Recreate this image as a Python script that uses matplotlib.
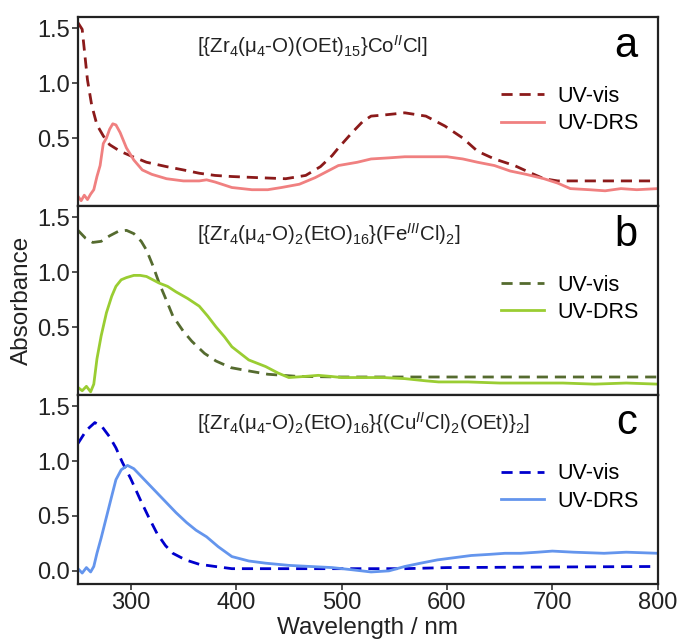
import numpy as np
import matplotlib
matplotlib.use("Agg")
import matplotlib.pyplot as plt

plt.rcParams['font.family'] = ['Liberation Sans', 'DejaVu Sans']
plt.rcParams['mathtext.fontset'] = 'custom'
plt.rcParams['mathtext.rm'] = 'Liberation Sans'
plt.rcParams['mathtext.it'] = 'Liberation Sans:italic'
plt.rcParams['mathtext.default'] = 'regular'

# panel a : Co
a_vis_x = [250, 254, 259, 263, 268, 274, 280, 290, 302, 315, 334, 350, 365, 380, 396, 420, 447,
           466, 480, 491, 497, 510, 520, 528, 540, 560, 580, 598, 615, 629, 645, 664, 680, 692,
           705, 730, 760, 800]
a_vis_y = [1.55, 1.49, 1.03, 0.80, 0.62, 0.52, 0.44, 0.38, 0.33, 0.28, 0.24, 0.21, 0.18, 0.16,
           0.15, 0.14, 0.13, 0.16, 0.24, 0.34, 0.41, 0.55, 0.65, 0.70, 0.71, 0.73, 0.70, 0.61,
           0.50, 0.38, 0.31, 0.25, 0.18, 0.13, 0.11, 0.11, 0.11, 0.11]
a_drs_x = [250, 253, 256, 259, 262, 265, 268, 271, 274, 277, 280, 283, 286, 290, 296, 303, 311,
           320, 334, 350, 365, 372, 380, 396, 415, 430, 443, 460, 475, 497, 515, 528, 545, 560,
           580, 600, 615, 629, 645, 660, 675, 692, 705, 717, 735, 750, 765, 780, 800]
a_drs_y = [-0.03, -0.07, -0.02, -0.06, -0.01, 0.03, 0.15, 0.25, 0.45, 0.50, 0.58, 0.63, 0.62,
           0.55, 0.41, 0.30, 0.21, 0.17, 0.13, 0.11, 0.11, 0.12, 0.10, 0.05, 0.03, 0.03, 0.05,
           0.08, 0.14, 0.25, 0.28, 0.31, 0.32, 0.33, 0.33, 0.33, 0.31, 0.28, 0.25, 0.20, 0.17,
           0.13, 0.09, 0.04, 0.03, 0.02, 0.04, 0.03, 0.04]

# panel b : Fe
b_vis_x = [250, 257, 264, 272, 280, 288, 296, 303, 310, 315, 321, 327, 334, 340, 350, 358, 370,
           381, 395, 412, 430, 459, 500, 600, 700, 800]
b_vis_y = [1.38, 1.31, 1.27, 1.28, 1.33, 1.37, 1.38, 1.35, 1.28, 1.20, 1.06, 0.90, 0.74, 0.60,
           0.46, 0.37, 0.26, 0.19, 0.13, 0.10, 0.07, 0.05, 0.045, 0.045, 0.045, 0.045]
b_drs_x = [250, 254, 258, 262, 265, 268, 272, 277, 282, 286, 291, 296, 303, 309, 315, 321, 327,
           335, 343, 354, 365, 373, 381, 389, 396, 412, 428, 440, 450, 465, 478, 490, 500, 520,
           540, 560, 580, 592, 620, 650, 680, 710, 740, 770, 800]
b_drs_y = [-0.05, -0.08, -0.04, -0.09, -0.02, 0.21, 0.42, 0.63, 0.78, 0.87, 0.93, 0.95, 0.97,
           0.97, 0.96, 0.93, 0.90, 0.87, 0.82, 0.76, 0.69, 0.60, 0.50, 0.41, 0.32, 0.20, 0.14,
           0.08, 0.04, 0.05, 0.06, 0.05, 0.04, 0.04, 0.04, 0.03, 0.01, 0.0, 0.0, -0.01, -0.01,
           -0.01, -0.02, -0.01, -0.02]

# panel c : Cu
c_vis_x = [250, 258, 266, 273, 280, 286, 292, 300, 309, 317, 325, 333, 340, 352, 365, 380, 396,
           430, 500, 560, 600, 700, 800]
c_vis_y = [1.16, 1.28, 1.35, 1.31, 1.22, 1.12, 0.99, 0.84, 0.65, 0.49, 0.34, 0.23, 0.16, 0.10,
           0.06, 0.04, 0.02, 0.02, 0.02, 0.02, 0.03, 0.035, 0.04]
c_drs_x = [250, 254, 258, 262, 265, 268, 272, 277, 282, 286, 291, 297, 303, 311, 320, 334, 343,
           353, 362, 372, 383, 396, 412, 428, 450, 470, 491, 510, 528, 545, 560, 575, 591, 607,
           623, 640, 655, 670, 686, 700, 720, 749, 770, 800]
c_drs_y = [0.02, -0.02, 0.03, -0.01, 0.04, 0.16, 0.30, 0.49, 0.68, 0.83, 0.92, 0.96, 0.93, 0.85,
           0.76, 0.62, 0.53, 0.44, 0.37, 0.31, 0.22, 0.13, 0.09, 0.07, 0.05, 0.04, 0.03, 0.01,
           -0.01, 0.0, 0.04, 0.07, 0.10, 0.12, 0.14, 0.15, 0.16, 0.16, 0.17, 0.18, 0.17, 0.16,
           0.17, 0.16]

titres = [r'[{Zr$_4$(μ$_4$-O)(OEt)$_{15}$}Co$^{\mathit{II}}$Cl]',
          r'[{Zr$_4$(μ$_4$-O)$_2$(EtO)$_{16}$}(Fe$^{\mathit{III}}$Cl)$_2$]',
          r'[{Zr$_4$(μ$_4$-O)$_2$(EtO)$_{16}$}{(Cu$^{\mathit{II}}$Cl)$_2$(OEt)}$_2$]']
lettres = ['a', 'b', 'c']

panels = [(a_vis_x, a_vis_y, a_drs_x, a_drs_y, '#8b1a1a', '#f08080'),
          (b_vis_x, b_vis_y, b_drs_x, b_drs_y, '#556b2f', '#9acd32'),
          (c_vis_x, c_vis_y, c_drs_x, c_drs_y, '#0000cd', '#6495ed')]

fig, axes = plt.subplots(3, 1, figsize=(6.81, 6.39), dpi=100, sharex=True)
fig.subplots_adjust(left=0.1145, right=0.966, top=0.973, bottom=0.086, hspace=0)

for i, ax in enumerate(axes):
    vx, vy, dx, dy, c1, c2 = panels[i]
    ax.plot(vx, vy, '--', color=c1, lw=2, dashes=(4, 2.5), label='UV-vis')
    ax.plot(dx, dy, '-', color=c2, lw=2, label='UV-DRS')
    ax.set_xlim(250, 800)
    ax.set_ylim(-0.12, 1.6)
    if i < 2:
        ax.set_yticks([0.5, 1.0, 1.5])
        ax.tick_params(axis='x', length=0)
    else:
        ax.set_yticks([0.0, 0.5, 1.0, 1.5])
    ax.tick_params(labelsize=17, color='#333333', labelcolor='#222222', width=1.2, length=4,
                   pad=2)
    for s in ax.spines.values():
        s.set_linewidth(1.6)
        s.set_color('#222222')
    ax.text(0.205, 0.85, titres[i], transform=ax.transAxes, fontsize=14.8,
            va='center', ha='left', color='#222222')
    ax.text(0.965, 0.85, lettres[i], transform=ax.transAxes, fontsize=30,
            va='center', ha='right', color='black')
    ax.legend(loc='center right', bbox_to_anchor=(1.0, 0.51), frameon=False,
              fontsize=15.5, handlelength=2.0, handletextpad=0.6, labelspacing=0.3)

axes[2].set_xticks([300, 400, 500, 600, 700, 800])
axes[1].set_ylabel('Absorbance', fontsize=17.5, color='#222222', labelpad=3)
axes[2].set_xlabel('Wavelength / nm', fontsize=17.5, color='#222222', labelpad=2)

fig.savefig('out.png', dpi=100)
